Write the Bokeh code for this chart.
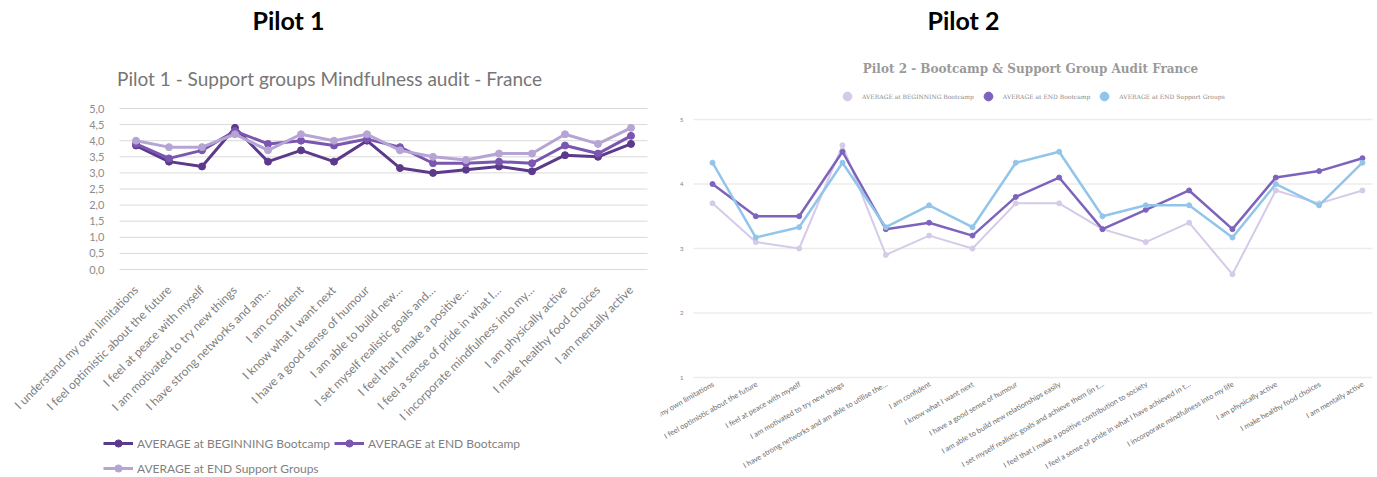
from math import pi

from bokeh.embed import file_html
from bokeh.layouts import row
from bokeh.models import (ColumnDataSource, FixedTicker, Label, Legend, LegendItem, Range1d)
from bokeh.plotting import figure
from bokeh.resources import INLINE

# ---------------- Pilot 1 data ----------------
p1_statements = [
    "I understand my own limitations",
    "I feel optimistic about the future",
    "I feel at peace with myself",
    "I am motivated to try new things",
    "I have strong networks and am…",
    "I am confident",
    "I know what I want next",
    "I have a good sense of humour",
    "I am able to build new…",
    "I set myself realistic goals and…",
    "I feel that I make a positive…",
    "I feel a sense of pride in what I…",
    "I incorporate mindfulness into my…",
    "I am physically active",
    "I make healthy food choices",
    "I am mentally active",
]
p1_begin_bootcamp = [3.85, 3.35, 3.2, 4.4, 3.35, 3.7, 3.35, 4.0, 3.15, 3.0, 3.1, 3.2, 3.05, 3.55, 3.5, 3.9]
p1_end_bootcamp = [3.9, 3.45, 3.7, 4.3, 3.9, 4.0, 3.85, 4.05, 3.8, 3.3, 3.3, 3.35, 3.3, 3.85, 3.6, 4.15]
p1_end_support = [4.0, 3.8, 3.8, 4.2, 3.7, 4.2, 4.0, 4.2, 3.7, 3.5, 3.4, 3.6, 3.6, 4.2, 3.9, 4.4]
p1_series_names = ["AVERAGE at BEGINNING Bootcamp", "AVERAGE at END Bootcamp", "AVERAGE at END Support Groups"]
p1_y_ticks = [0, 0.5, 1, 1.5, 2, 2.5, 3, 3.5, 4, 4.5, 5]
p1_y_tick_labels = ["0,0", "0,5", "1,0", "1,5", "2,0", "2,5", "3,0", "3,5", "4,0", "4,5", "5,0"]

# ---------------- Pilot 2 data ----------------
p2_statements = [
    "I understand my own limitations",
    "I feel optimistic about the future",
    "I feel at peace with myself",
    "I am motivated to try new things",
    "I have strong networks and am able to utilise the…",
    "I am confident",
    "I know what I want next",
    "I have a good sense of humour",
    "I am able to build new relationships easily",
    "I set myself realistic goals and achieve them (in t…",
    "I feel that I make a positive contribution to society",
    "I feel a sense of pride in what I have achieved in t…",
    "I incorporate mindfulness into my life",
    "I am physically active",
    "I make healthy food choices",
    "I am mentally active",
]
p2_begin_bootcamp = [3.7, 3.1, 3.0, 4.6, 2.9, 3.2, 3.0, 3.7, 3.7, 3.3, 3.1, 3.4, 2.6, 3.9, 3.7, 3.9]
p2_end_bootcamp = [4.0, 3.5, 3.5, 4.5, 3.3, 3.4, 3.2, 3.8, 4.1, 3.3, 3.6, 3.9, 3.3, 4.1, 4.2, 4.4]
p2_end_support = [4.33, 3.17, 3.33, 4.33, 3.33, 3.67, 3.33, 4.33, 4.5, 3.5, 3.67, 3.67, 3.17, 4.0, 3.67, 4.33]
p2_series_names = ["AVERAGE at BEGINNING Bootcamp", "AVERAGE at END Bootcamp", "AVERAGE at END Support Groups"]
p2_y_ticks = [1, 2, 3, 4, 5]

SANS = "Lato"
SERIF = "DejaVu Serif"
HEIGHT = 477

# Each figure's plotting area fills its whole canvas; axes are pinned inside it.
# Left chart: 33 px per statement, statement 0 at x=135.5; 0..5 spans rows 269..108.
P1_WIDTH = 660
p1_px_cat, p1_first_px = 33.0, 135.5
p1_px_unit, p1_five_row = 32.2, 108.0
p1_x_lo = -p1_first_px / p1_px_cat
p1_x_hi = p1_x_lo + P1_WIDTH / p1_px_cat
p1_y_hi = 5 + p1_five_row / p1_px_unit
p1_y_lo = p1_y_hi - HEIGHT / p1_px_unit
p1_plot_x = (-0.5, len(p1_statements) - 0.5)      # extent of the plot area in categories

# Right chart (canvas starts at page x=660): statement 0 at local x=52, 43.33 px per
# statement; 1..5 spans rows 377..119.
P2_WIDTH = 717
p2_px_cat, p2_first_px = 43.33, 52.0
p2_px_unit, p2_five_row = 64.5, 119.0
p2_x_lo = -p2_first_px / p2_px_cat
p2_x_hi = p2_x_lo + P2_WIDTH / p2_px_cat
p2_y_hi = 5 + p2_five_row / p2_px_unit
p2_y_lo = p2_y_hi - HEIGHT / p2_px_unit
p2_plot_x = (-0.44, len(p2_statements) - 0.77)


def p1_pos(px, py):
    return p1_x_lo + px / p1_px_cat, p1_y_hi - py / p1_px_unit


def p2_pos(px, py):
    return p2_x_lo + px / p2_px_cat, p2_y_hi - py / p2_px_unit


def make_figure(width, xr, yr):
    p = figure(width=width, height=HEIGHT, output_backend="svg", toolbar_location=None,
               x_range=Range1d(*xr), y_range=Range1d(*yr),
               min_border=0, min_border_left=0, min_border_right=0,
               min_border_top=0, min_border_bottom=0)
    p.outline_line_color = None
    p.xgrid.visible = False
    p.ygrid.visible = False
    for ax in (p.xaxis[0], p.yaxis[0]):
        ax.axis_line_color = None
        ax.major_tick_line_color = None
        ax.minor_tick_line_color = None
    return p


def gridlines(p, ticks, x_extent, color, width):
    src = ColumnDataSource(dict(x0=[x_extent[0]] * len(ticks), x1=[x_extent[1]] * len(ticks),
                                y=ticks))
    p.segment(x0="x0", y0="y", x1="x1", y1="y", source=src, line_color=color,
              line_width=width, level="underlay")


def add_series(p, labels, values, color, line_width, marker_size):
    src = ColumnDataSource(dict(x=list(range(len(labels))), y=values))
    ln = p.line("x", "y", source=src, line_color=color, line_width=line_width)
    mk = p.scatter("x", "y", source=src, size=marker_size, fill_color=color, line_color=color)
    return ln, mk


def heading(p, pos, text, font, size, style, color):
    x, y = pos
    p.add_layout(Label(x=x, y=y, text=text, text_align="center", text_baseline="middle",
                       text_font=font, text_font_size=size, text_font_style=style,
                       text_color=color))


# ---------------- Pilot 1 chart ----------------
p1 = make_figure(P1_WIDTH, (p1_x_lo, p1_x_hi), (p1_y_lo, p1_y_hi))
gridlines(p1, p1_y_ticks, p1_plot_x, "#d9d9d9", 1)

ya = p1.yaxis[0]
ya.fixed_location = p1_plot_x[0]
ya.ticker = FixedTicker(ticks=p1_y_ticks)
ya.major_label_overrides = dict(zip(p1_y_ticks, p1_y_tick_labels))
ya.major_label_text_font = SANS
ya.major_label_text_font_size = "11px"
ya.major_label_text_color = "#8c8c8c"
ya.major_label_standoff = 9

xa = p1.xaxis[0]
xa.fixed_location = 0
xa.ticker = FixedTicker(ticks=list(range(len(p1_statements))))
xa.major_label_overrides = {i: s for i, s in enumerate(p1_statements)}
xa.major_label_orientation = pi / 4
xa.major_label_text_font = SANS
xa.major_label_text_font_size = "12px"
xa.major_label_text_color = "#7f7f7f"
xa.major_label_standoff = 12

p1_colors = ["#5b3a8c", "#7b56b0", "#b6a5d4"]
p1_items = []
for name, vals, col in zip(p1_series_names, [p1_begin_bootcamp, p1_end_bootcamp, p1_end_support], p1_colors):
    ln, mk = add_series(p1, p1_statements, vals, col, 3, 7)
    p1_items.append(LegendItem(label=name, renderers=[ln, mk]))

legend_style = dict(orientation="horizontal", margin=0, padding=0, spacing=4, glyph_width=30,
                    glyph_height=18, label_standoff=4, label_text_font=SANS,
                    label_text_font_size="12px", label_text_color="#7f7f7f",
                    border_line_color=None, background_fill_alpha=0)
p1.add_layout(Legend(items=p1_items[:2], location=(103, 25), **legend_style))
p1.add_layout(Legend(items=p1_items[2:], location=(103, 0), **legend_style))

heading(p1, p1_pos(288, 19), "Pilot 1", SANS, "25px", "bold", "#000000")
heading(p1, p1_pos(329, 78), "Pilot 1 - Support groups Mindfulness audit - France", SANS, "19px",
        "normal", "#767676")

# ---------------- Pilot 2 chart ----------------
p2 = make_figure(P2_WIDTH, (p2_x_lo, p2_x_hi), (p2_y_lo, p2_y_hi))
gridlines(p2, p2_y_ticks, p2_plot_x, "#ececec", 1.5)

ya2 = p2.yaxis[0]
ya2.fixed_location = p2_plot_x[0]
ya2.ticker = FixedTicker(ticks=p2_y_ticks)
ya2.major_label_text_font = SANS
ya2.major_label_text_font_size = "6px"
ya2.major_label_text_color = "#808080"
ya2.major_label_standoff = 4
p2.xaxis[0].visible = False

# statement names hang from the 1-line, rotated 30 degrees, ending at each category
for i, name in enumerate(p2_statements):
    p2.add_layout(Label(x=i, y=1, x_offset=1, y_offset=-6, text=name, angle=pi / 6,
                        text_align="right", text_baseline="middle", text_font=SANS,
                        text_font_size="7.5px", text_color="#6e6e6e"))

p2_colors = ["#d5cbe8", "#7e63bd", "#92c5ea"]
p2_widths = [2, 2.5, 2.5]
p2_items = []
for name, vals, col, lw in zip(p2_series_names, [p2_begin_bootcamp, p2_end_bootcamp, p2_end_support],
                               p2_colors, p2_widths):
    ln, mk = add_series(p2, p2_statements, vals, col, lw, 5)
    p2_items.append(LegendItem(label=name, renderers=[mk]))

p2.add_layout(Legend(items=p2_items, orientation="horizontal", location=(176, 370), margin=0, padding=0,
                     spacing=3, glyph_width=22, glyph_height=22, label_standoff=4,
                     label_text_font=SERIF, label_text_font_size="6px", label_text_color="#8a8a8a",
                     border_line_color=None, background_fill_alpha=0))

heading(p2, p2_pos(303, 19), "Pilot 2", SANS, "25px", "bold", "#000000")
heading(p2, p2_pos(370, 68), "Pilot 2 - Bootcamp & Support Group Audit France", SERIF, "12px",
        "bold", "#9a9a9a")

layout = row(p1, p2, spacing=0)
open("out.html", "w").write(file_html(layout, INLINE))
